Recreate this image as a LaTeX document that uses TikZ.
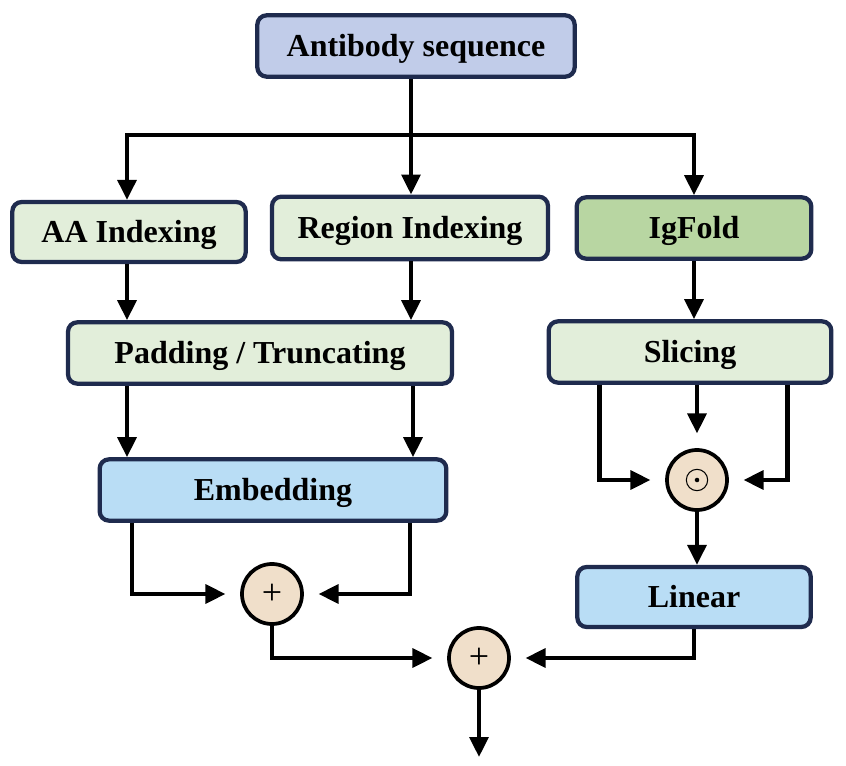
\documentclass[tikz,border=0pt]{standalone}
\usepackage{fontspec}
\setmainfont{Liberation Serif}
\usetikzlibrary{arrows.meta,calc}
\definecolor{navy}{HTML}{1F2B4E}
\definecolor{seqblue}{HTML}{C1CCE9}
\definecolor{palegreen}{HTML}{E2EEDA}
\definecolor{foldgreen}{HTML}{B8D6A2}
\definecolor{skyblue}{HTML}{B9DDF5}
\definecolor{sand}{HTML}{F0DFCA}
\tikzset{
	box/.style={draw=navy, line width=3.2pt, rounded corners=7pt, inner sep=0pt,
		text height=16pt, text depth=0pt, font=\fontsize{24}{28}\selectfont\bfseries},
	op/.style={circle, draw=black, line width=2.8pt, fill=sand, minimum size=45pt, inner sep=0pt},
	plus/.style={op, font=\fontsize{27}{27}\selectfont},
	arr/.style={line width=3.2pt, -{Triangle[length=15pt,width=14pt]}},
	gap/.style={shorten >=11pt}
}
\begin{document}
\begin{tikzpicture}[x=0.75pt,y=-0.75pt]
	\useasboundingbox (0,0) rectangle (846,766);
	% boxes
	\node[box, fill=seqblue, minimum width=238pt, minimum height=46pt] (seq) at (416,46) {Antibody sequence};
	\node[box, fill=palegreen, minimum width=175pt, minimum height=45pt] (aa) at (129,232) {AA Indexing};
	\node[box, fill=palegreen, minimum width=207pt, minimum height=47pt] (reg) at (410,228) {Region Indexing};
	\node[box, fill=foldgreen, minimum width=176pt, minimum height=46pt] (fold) at (694,228) {IgFold};
	\node[box, fill=palegreen, minimum width=288pt, minimum height=46pt] (pad) at (260,353) {Padding / Truncating};
	\node[box, fill=palegreen, minimum width=212pt, minimum height=46pt] (slice) at (690,352) {Slicing};
	\node[box, fill=skyblue, minimum width=260pt, minimum height=46pt] (emb) at (273,490) {Embedding};
	\node[box, fill=skyblue, minimum width=175pt, minimum height=45pt] (lin) at (694,597) {Linear};
	% operators
	\node[op] (dot) at (697,480) {};
	\draw[line width=0.8pt] (dot) circle (8pt);
	\fill (dot) circle (1.7pt);
	\node[plus] (plusa) at (272,594) {+};
	\node[plus] (plusb) at (479,658) {+};
	\coordinate (split) at (411,135);
	\coordinate (out) at (479,757);
	% connectors
	\draw[line width=3.2pt] (seq.south -| split) -- (split);
	\draw[arr] (split) -| (aa.north -| 127,0);
	\draw[arr] (split) -- (split |- reg.north);
	\draw[arr] (split) -| (fold.north);
	\draw[arr] (aa.south -| 127,0) -- (pad.north -| 127,0);
	\draw[arr] (reg.south -| split) -- (pad.north -| split);
	\draw[arr] (pad.south -| 127,0) -- (emb.north -| 127,0);
	\draw[arr] (pad.south -| 413,0) -- (emb.north -| 413,0);
	\draw[arr] (fold.south) -- (fold.south |- slice.north);
	\draw[arr,gap] ($(slice.south west)!0.185!(slice.south east)$) |- (dot.west);
	\draw[arr,gap] (slice.south -| dot) -- (dot.north);
	\draw[arr,gap] ($(slice.south west)!0.84!(slice.south east)$) |- (dot.east);
	\draw[arr] (dot.south) -- (dot.south |- lin.north);
	\draw[arr,gap] ($(emb.south west)!0.098!(emb.south east)$) |- (plusa.west);
	\draw[arr,gap] (emb.south -| 410,0) |- (plusa.east);
	\draw[arr,gap] (plusa.south) |- (plusb.west);
	\draw[arr,gap] (lin.south) |- (plusb.east);
	\draw[arr] (plusb.south) -- (out);
\end{tikzpicture}
\end{document}
